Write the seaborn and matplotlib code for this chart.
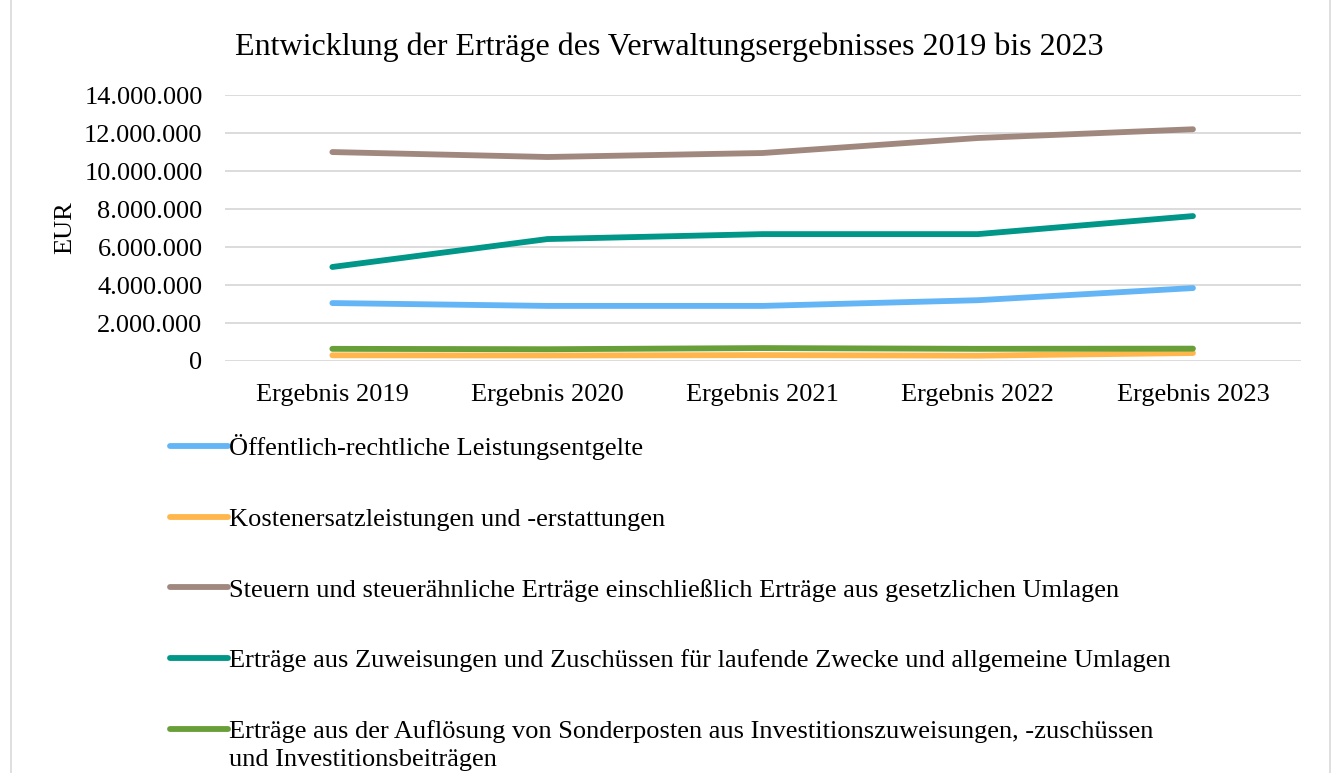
import pandas as pd
import seaborn as sns
import matplotlib.pyplot as plt
from matplotlib.patches import Rectangle
from matplotlib.ticker import FuncFormatter

# Categories and series values (EUR)
years = ["Ergebnis 2019", "Ergebnis 2020", "Ergebnis 2021", "Ergebnis 2022", "Ergebnis 2023"]
leistungsentgelte = [3050000, 2900000, 2900000, 3200000, 3840000]
kostenersatz = [300000, 290000, 310000, 280000, 420000]
steuern = [11000000, 10740000, 10950000, 11740000, 12200000]
zuweisungen = [4950000, 6420000, 6680000, 6680000, 7630000]
sonderposten = [640000, 620000, 680000, 640000, 650000]

series_names = [
    "Öffentlich-rechtliche Leistungsentgelte",
    "Kostenersatzleistungen und -erstattungen",
    "Steuern und steuerähnliche Erträge einschließlich Erträge aus gesetzlichen Umlagen",
    "Erträge aus Zuweisungen und Zuschüssen für laufende Zwecke und allgemeine Umlagen",
    "Erträge aus der Auflösung von Sonderposten aus Investitionszuweisungen, -zuschüssen",
]
last_label_line2 = "und Investitionsbeiträgen"
colors = ["#64B5F6", "#FFB74D", "#A1887F", "#009688", "#689F38"]

# Long-form table for seaborn
values = [leistungsentgelte, kostenersatz, steuern, zuweisungen, sonderposten]
rows = []
for name, vals in zip(series_names, values):
    for i, v in enumerate(vals):
        rows.append({"x": i, "Jahr": years[i], "Wert": v, "Reihe": name})
df = pd.DataFrame(rows)

sns.set_theme(style="white")
plt.rcParams["font.family"] = ["Liberation Serif", "DejaVu Serif"]
plt.rcParams["text.color"] = "black"
plt.rcParams["axes.labelcolor"] = "black"

FS = 19
LW = 4.2

fig = plt.figure(figsize=(13.38, 7.73), dpi=100)
ax = fig.add_axes([0.168, 0.533, 0.804, 0.344])

sns.lineplot(data=df, x="x", y="Wert", hue="Reihe", hue_order=series_names,
             palette=colors, linewidth=LW, ax=ax, legend=False,
             solid_capstyle="round")

ax.set_xlim(-0.5, 4.5)
ax.set_ylim(0, 14000000)
ax.set_yticks(range(0, 14000001, 2000000))
ax.yaxis.set_major_formatter(FuncFormatter(lambda v, p: f"{int(v):,}".replace(",", ".")))
ax.set_xticks(range(len(years)))
ax.set_xticklabels(years)
ax.tick_params(axis="both", labelsize=FS, length=0, labelcolor="black")
ax.tick_params(axis="x", pad=16.5)
ax.tick_params(axis="y", pad=16)
ax.grid(axis="y", color="#D9D9D9", linewidth=1.3)
ax.set_axisbelow(True)
for s in ax.spines.values():
    s.set_visible(False)
ax.set_xlabel("")
ax.set_ylabel("EUR", fontsize=FS, labelpad=5.5)

fig.text(0.5, 0.939, "Entwicklung der Erträge des Verwaltungsergebnisses 2019 bis 2023",
         ha="center", va="center", fontsize=23)

# Legend below the plot
handles = [plt.Line2D([], [], color=c, linewidth=LW, solid_capstyle="round") for c in colors]
leg = fig.legend(handles, series_names, loc="upper left", bbox_to_anchor=(0.119, 0.452),
                 frameon=False, fontsize=FS, handlelength=2.2, handletextpad=0.06,
                 labelspacing=1.79, borderaxespad=0)

# second line of the last legend entry, placed under its first line
fig.canvas.draw()
bb = leg.get_texts()[-1].get_window_extent(fig.canvas.get_renderer())
fig.text(bb.x0 / fig.bbox.width, (bb.y0 - 6) / fig.bbox.height, last_label_line2,
         ha="left", va="top", fontsize=FS)

# light frame around the chart area
fig.patches.append(Rectangle((0.008, -0.02), 0.986, 1.05, transform=fig.transFigure,
                             fill=False, edgecolor="#D9D9D9", linewidth=1.2))

fig.savefig("out.png", dpi=100)
